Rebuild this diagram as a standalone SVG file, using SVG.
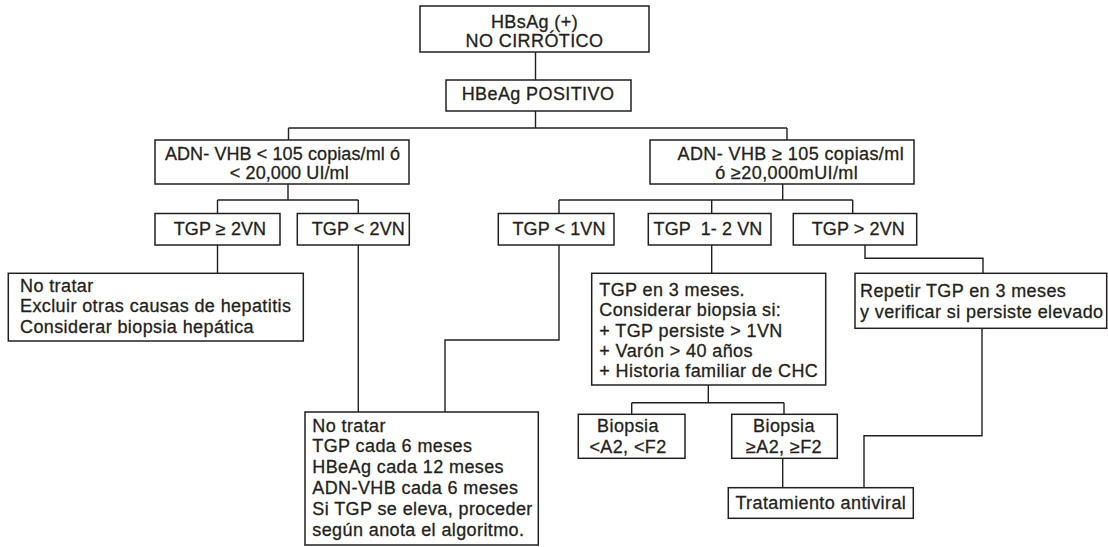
<svg xmlns="http://www.w3.org/2000/svg" width="1108" height="547" viewBox="0 0 1108 547">
<style>
.b{fill:#fff;stroke:#231f20;stroke-width:1.5}
.c{fill:none;stroke:#231f20;stroke-width:1.4}
text{font-family:"Liberation Sans",Arial,sans-serif;font-size:18px;fill:#231f20;stroke:#231f20;stroke-width:0.3;letter-spacing:0.4px}
.m{text-anchor:middle}
.h{letter-spacing:0.1px}
</style>
<rect width="1108" height="547" fill="#fff"/>
<g id="connectors">
<path class="c" d="M535.5,52V80M535.5,111V128M288.5,128H787M288.5,128V140M787,128V140"/>
<path class="c" d="M288,184V200M217.5,200H358.3M217.5,200V213.5M358.3,200V213.5"/>
<path class="c" d="M782.7,184V200M559,200H852.7M559,200V213.5M711.7,200V213.5M852.7,200V213.5"/>
<path class="c" d="M217.5,245V273.3M358.3,245V412M559,245V340H445V412M711.7,245V273.3M865,245V258.3H983V273.3"/>
<path class="c" d="M708.3,385V402.7M631.7,402.7H784M631.7,402.7V414.3M784,402.7V414.3M782.7,458.3V487.7M982,328.3V435.7H864V487.7"/>
</g>
<g id="n-hbsag"><rect class="b" x="420" y="6" width="229" height="46"/><text class="m" x="534.5" y="27.5">HBsAg (+)</text><text class="m" x="534.5" y="47">NO CIRRÓTICO</text></g>
<g id="n-hbeag"><rect class="b" x="446" y="80" width="185" height="31"/><text class="m" x="538" y="100">HBeAg POSITIVO</text></g>
<g id="n-adn-low"><rect class="b" x="155" y="140" width="254" height="44"/><text class="m h" x="282.5" y="159.5">ADN- VHB &lt; 105 copias/ml ó</text><text class="m h" x="289.3" y="179">&lt; 20,000 UI/ml</text></g>
<g id="n-adn-high"><rect class="b" x="650" y="140" width="264" height="44"/><text class="m" x="790.8" y="159.5">ADN- VHB ≥ 105 copias/ml</text><text class="m" x="786.7" y="179">ó ≥20,000mUI/ml</text></g>
<g id="n-tgp-ge2"><rect class="b" x="155" y="213.5" width="125" height="31.5"/><text class="m h" x="220" y="235">TGP ≥ 2VN</text></g>
<g id="n-tgp-lt2"><rect class="b" x="297.3" y="213.5" width="112" height="31.5"/><text class="m h" x="358.3" y="235">TGP &lt; 2VN</text></g>
<g id="n-tgp-lt1"><rect class="b" x="498.3" y="213.5" width="115.7" height="31.5"/><text class="m h" x="559" y="235">TGP &lt; 1VN</text></g>
<g id="n-tgp-12"><rect class="b" x="648.3" y="213.5" width="122.7" height="31.5"/><text class="m h" x="708" y="235" xml:space="preserve">TGP  1- 2 VN</text></g>
<g id="n-tgp-gt2"><rect class="b" x="793.3" y="213.5" width="123.4" height="31.5"/><text class="m h" x="858.3" y="235">TGP &gt; 2VN</text></g>
<g id="n-notratar1"><rect class="b" x="8.3" y="273.3" width="295" height="67.7"/><text x="20" y="291.7">No tratar</text><text x="20" y="312.3">Excluir otras causas de hepatitis</text><text x="20" y="333.3">Considerar biopsia hepática</text></g>
<g id="n-notratar2"><rect class="b" x="305" y="412" width="233.3" height="133"/><text x="312.3" y="431.5">No tratar</text><text x="312.3" y="452.3">TGP cada 6 meses</text><text x="312.3" y="473.1">HBeAg cada 12 meses</text><text x="312.3" y="493.9">ADN-VHB cada 6 meses</text><text x="312.3" y="514.7">Si TGP se eleva, proceder</text><text x="312.3" y="535.5">según anota el algoritmo.</text></g>
<g id="n-tgp3m"><rect class="b" x="591.7" y="273.3" width="234" height="111.7"/><text x="599.3" y="296">TGP en 3 meses.</text><text x="599.3" y="316.3">Considerar biopsia si:</text><text x="599.3" y="336.6">+ TGP persiste &gt; 1VN</text><text x="599.3" y="356.9">+ Varón &gt; 40 años</text><text x="599.3" y="377.2">+ Historia familiar de CHC</text></g>
<g id="n-repetir"><rect class="b" x="855" y="273.3" width="251.7" height="55"/><text x="860" y="297">Repetir TGP en 3 meses</text><text x="860" y="318.3">y verificar si persiste elevado</text></g>
<g id="n-biopsia-low"><rect class="b" x="578.3" y="414.3" width="106.7" height="44"/><text class="m" x="628" y="431.7">Biopsia</text><text class="m" x="628" y="452.7">&lt;A2, &lt;F2</text></g>
<g id="n-biopsia-high"><rect class="b" x="731.7" y="414.3" width="105.6" height="44"/><text class="m" x="784" y="431.7">Biopsia</text><text class="m" x="784" y="452.7">≥A2, ≥F2</text></g>
<g id="n-tratamiento"><rect class="b" x="728.3" y="487.7" width="185" height="30.6"/><text class="m" x="820.8" y="509.3">Tratamiento antiviral</text></g>
</svg>
